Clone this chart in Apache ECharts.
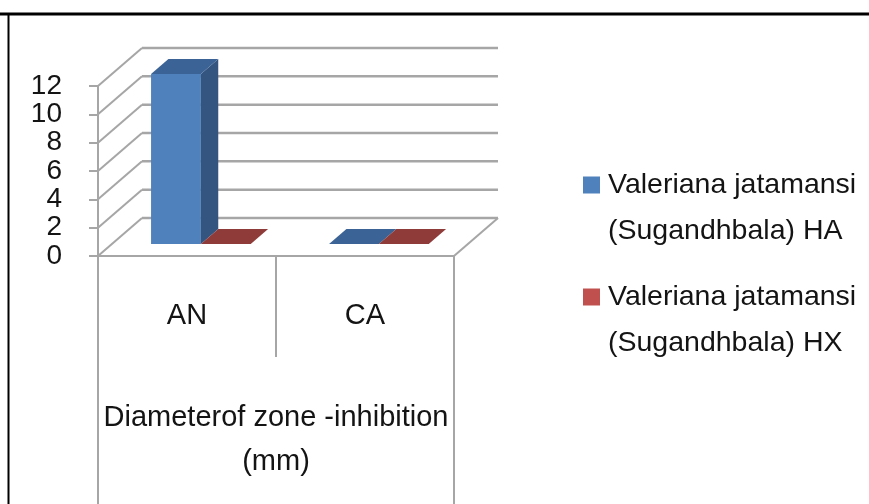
<!DOCTYPE html>
<html>
<head>
<meta charset="utf-8">
<script src="https://cdn.jsdelivr.net/npm/echarts@6/dist/echarts.min.js"></script>
<style>
  html, body { margin: 0; padding: 0; background: #fff; }
  #chart { width: 869px; height: 504px; }
</style>
</head>
<body>
<div id="chart"></div>
<script>
// ---- data ----
const categories = ['AN', 'CA'];
const groupLabel = ['Diameterof zone -inhibition\n(mm)'];
const seriesNames = [
  'Valeriana jatamansi (Sugandhbala) HA',
  'Valeriana jatamansi (Sugandhbala) HX'
];
const haValues = [12, 0];
const hxValues = [0, 0];
const yTicks = [0, 2, 4, 6, 8, 10, 12];

// ---- look ----
// depth of the 3-D plot box (pixels), and where the bars sit inside it
const DEPTH_X = 44, DEPTH_Y = 38;
const BAR_FRONT = 12 / 38, BAR_BACK = 27 / 38;
const GRID_COLOR = '#A6A6A6';
const TEXT_COLOR = '#141414';
const FONT = '"Liberation Sans", Arial, sans-serif';

const palettes = [
  { front: '#4F81BD', side: '#33557F', top: '#3C6395' },
  { front: '#C0504D', side: '#7E302E', top: '#8F3B39' }
];

// walls and floor of the box, one gridline per tick value
function frameItem(params, api) {
  const cs = params.coordSys;
  const v = api.value(1);
  const y = api.coord([0, v])[1];
  const left = cs.x, right = cs.x + cs.width;
  const thin = { stroke: GRID_COLOR, lineWidth: 2 };
  const children = [
    { type: 'line', shape: { x1: left, y1: y, x2: left + DEPTH_X, y2: y - DEPTH_Y }, style: thin },
    { type: 'line', shape: { x1: left + DEPTH_X, y1: y - DEPTH_Y, x2: right + DEPTH_X, y2: y - DEPTH_Y },
      style: { stroke: GRID_COLOR, lineWidth: 2.5 } }
  ];
  if (v === 0) {
    children.push({ type: 'line', shape: { x1: right, y1: y, x2: right + DEPTH_X, y2: y - DEPTH_Y }, style: thin });
  }
  return { type: 'group', children };
}

// a box-shaped bar: front face, right side and top
function barRenderer(slot) {
  const pal = palettes[slot];
  return function (params, api) {
    const cat = api.value(0), val = api.value(1);
    const base = api.coord([cat, 0]);
    const tip = api.coord([cat, val]);
    const bw = api.size([1, 0])[0] * 0.28;
    const x0 = base[0] - bw + slot * bw;
    const fx = DEPTH_X * BAR_FRONT, fy = DEPTH_Y * BAR_FRONT;
    const bx = DEPTH_X * BAR_BACK, by = DEPTH_Y * BAR_BACK;
    const yb = base[1], yt = tip[1];
    const children = [];
    if (yb - yt > 0.5) {
      children.push({ type: 'rect', shape: { x: x0 + fx, y: yt - fy, width: bw, height: yb - yt },
        style: { fill: pal.front } });
      children.push({ type: 'polygon', shape: { points: [
        [x0 + bw + fx, yt - fy], [x0 + bw + bx, yt - by], [x0 + bw + bx, yb - by], [x0 + bw + fx, yb - fy]
      ] }, style: { fill: pal.side } });
    }
    children.push({ type: 'polygon', shape: { points: [
      [x0 + fx, yt - fy], [x0 + bw + fx, yt - fy], [x0 + bw + bx, yt - by], [x0 + bx, yt - by]
    ] }, style: { fill: pal.top } });
    return { type: 'group', children };
  };
}

// one legend block per series; a blank first line keeps the swatch level with the first text line
function legendFor(i, top) {
  return {
    data: [seriesNames[i]],
    orient: 'vertical',
    left: 583,
    top: top,
    padding: 0,
    icon: 'rect',
    itemWidth: 17,
    itemHeight: 17,
    selectedMode: false,
    formatter: (n) => ' \n' + n.replace(' (', '\n('),
    textStyle: { fontFamily: FONT, fontSize: 28.5, lineHeight: 46, color: TEXT_COLOR, padding: [0, 0, 0, 3] }
  };
}

const chart = echarts.init(document.getElementById('chart'), null, { renderer: 'canvas' });
chart.setOption({
  backgroundColor: '#fff',
  animation: false,
  grid: { left: 98, right: 415, top: 86, bottom: 248 },
  legend: [legendFor(0, 116), legendFor(1, 228)],
  xAxis: [
    {
      type: 'category',
      data: categories,
      position: 'bottom',
      axisLine: { show: true, lineStyle: { color: GRID_COLOR, width: 2 } },
      axisTick: { show: true, interval: 0, length: 101, lineStyle: { color: GRID_COLOR, width: 2 } },
      axisLabel: { margin: 45, fontSize: 29, fontFamily: FONT, color: TEXT_COLOR },
      splitLine: { show: false }
    },
    {
      type: 'category',
      data: groupLabel,
      position: 'bottom',
      offset: 0,
      axisLine: { show: false },
      axisTick: { show: true, length: 250, lineStyle: { color: GRID_COLOR, width: 2 } },
      axisLabel: { margin: 140, fontSize: 29, lineHeight: 44, fontFamily: FONT, color: TEXT_COLOR, align: 'center' },
      splitLine: { show: false }
    }
  ],
  yAxis: {
    type: 'value',
    min: 0,
    max: 12,
    interval: 2,
    axisLine: { show: true, lineStyle: { color: GRID_COLOR, width: 2 } },
    axisTick: { show: true, length: 9, lineStyle: { color: GRID_COLOR, width: 2 } },
    axisLabel: { margin: 36, fontSize: 28, fontFamily: FONT, color: TEXT_COLOR,
      showMinLabel: true, showMaxLabel: true, hideOverlap: false,
      formatter: (v) => (yTicks.indexOf(v) >= 0 ? String(v) : '') },
    splitLine: { show: false }
  },
  graphic: [
    { type: 'line', shape: { x1: 0, y1: 14, x2: 869, y2: 14 }, style: { stroke: '#000', lineWidth: 3 }, z: 100 },
    { type: 'line', shape: { x1: 8.5, y1: 13, x2: 8.5, y2: 504 }, style: { stroke: '#000', lineWidth: 2 }, z: 100 }
  ],
  series: [
    {
      type: 'custom',
      name: 'frame',
      silent: true,
      clip: false,
      z: 1,
      renderItem: frameItem,
      data: yTicks.map((v) => [0, v])
    },
    {
      type: 'custom',
      name: seriesNames[0],
      clip: false,
      z: 3,
      itemStyle: { color: palettes[0].front },
      renderItem: barRenderer(0),
      data: categories.map((c, i) => [i, haValues[i]])
    },
    {
      type: 'custom',
      name: seriesNames[1],
      clip: false,
      z: 3,
      itemStyle: { color: palettes[1].front },
      renderItem: barRenderer(1),
      data: categories.map((c, i) => [i, hxValues[i]])
    }
  ]
});
</script>
</body>
</html>
